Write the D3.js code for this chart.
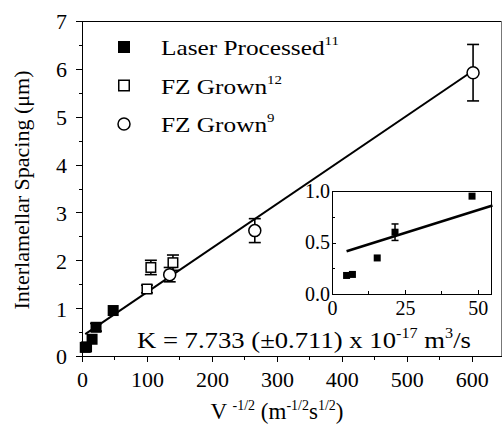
<!DOCTYPE html>
<html>
<head>
<meta charset="utf-8">
<script src="https://cdn.jsdelivr.net/npm/d3@7"></script>
<style>
  body { margin: 0; background: #fff; }
  text { font-family: "Liberation Serif", "Times New Roman", serif; fill: #000; }
  .axis path, .axis line { stroke: #000; stroke-width: 1; shape-rendering: crispEdges; }
</style>
</head>
<body>
<div class="chart"></div>
<script>
// data
var laserX = [5, 7, 15.5, 21.6, 48];
var laserY = [0.18, 0.19, 0.35, 0.60, 0.95];
var laserErr = [0, 0, 0, 0.08, 0];

var fz12X = [100, 106, 140];
var fz12Y = [1.40, 1.85, 1.95];
var fz12Err = [0.08, 0.15, 0.16];

var fz9X = [135, 266, 602];
var fz9Y = [1.70, 2.62, 5.92];
var fz9Err = [0.15, 0.25, 0.59];

// fitted line: intercept, slope, x from, x to
var mainFit = [0.41, 0.00922, 5, 602];
var insetFit = [0.37, 0.0089, 5, 55];

var xTicks = [0, 100, 200, 300, 400, 500, 600];
var yTicks = [0, 1, 2, 3, 4, 5, 6, 7];
var insetXTicks = [0, 25, 50];
var insetYTicks = [0, 0.5, 1.0];

var legendLabels = ["Laser Processed", "FZ Grown", "FZ Grown"];
var legendRefs = ["11", "12", "9"];

var W = 504, H = 427;
var margin = {top: 21, right: 3, bottom: 71, left: 82},
    width = W - margin.left - margin.right,
    height = H - margin.top - margin.bottom;

var svg = d3.select(".chart").append("svg")
    .attr("width", W)
    .attr("height", H);

var g = svg.append("g")
    .attr("transform", "translate(" + margin.left + "," + margin.top + ")");

var x = d3.scaleLinear().domain([0, 645]).range([0, width]);
var y = d3.scaleLinear().domain([0, 7]).range([height, 0]);

// frame (top + right)
g.append("path")
    .attr("d", "M0 0 H" + width)
    .attr("stroke", "#000")
    .attr("shape-rendering", "crispEdges");
g.append("path")
    .attr("d", "M" + width + " 0 V" + height)
    .attr("stroke", "#777")
    .attr("shape-rendering", "crispEdges");

// minor ticks
g.append("g").attr("class", "axis")
    .attr("transform", "translate(0," + height + ")")
    .call(d3.axisBottom(x).tickValues(d3.range(50, 650, 100)).tickSize(4).tickFormat(""))
    .select(".domain").remove();
g.append("g").attr("class", "axis")
    .call(d3.axisLeft(y).tickValues(d3.range(0.5, 7, 1)).tickSize(3).tickFormat(""))
    .select(".domain").remove();

// major axes
var xAxis = g.append("g").attr("class", "axis")
    .attr("transform", "translate(0," + height + ")")
    .call(d3.axisBottom(x).tickValues(xTicks).tickSize(6).tickSizeOuter(0).tickPadding(4).tickFormat(d3.format("d")));
xAxis.selectAll("text").style("font-size", "22px").attr("dy", "0.95em");

var yAxis = g.append("g").attr("class", "axis")
    .call(d3.axisLeft(y).tickValues(yTicks).tickSize(6).tickSizeOuter(0).tickPadding(9).tickFormat(d3.format("d")));
yAxis.selectAll("text").style("font-size", "22px").attr("dy", "0.36em");

// axis titles
var xt = svg.append("text")
    .attr("x", 277)
    .attr("y", 419)
    .attr("text-anchor", "middle")
    .style("font-size", "23px");
xt.append("tspan").text("V ");
xt.append("tspan").attr("dy", -9).style("font-size", "14px").text("-1/2");
xt.append("tspan").attr("dy", 9).text(" (m");
xt.append("tspan").attr("dy", -9).style("font-size", "14px").text("-1/2");
xt.append("tspan").attr("dy", 9).text("s");
xt.append("tspan").attr("dy", -9).style("font-size", "14px").text("1/2");
xt.append("tspan").attr("dy", 9).text(")");

svg.append("text")
    .attr("transform", "translate(29," + 190 + ") rotate(-90)")
    .attr("text-anchor", "middle")
    .style("font-size", "22px")
    .text("Interlamellar Spacing (\u03bcm)");

// fit line
var line = d3.line().x(function (d) { return x(d); }).y(function (d) { return y(mainFit[0] + mainFit[1] * d); });
g.append("path")
    .datum([mainFit[2], mainFit[3]])
    .attr("d", line)
    .attr("fill", "none")
    .attr("stroke", "#000")
    .attr("stroke-width", 2);

function zip(xs, ys, es) {
    return xs.map(function (v, i) { return {x: v, y: ys[i], e: es[i]}; });
}
var laser = zip(laserX, laserY, laserErr);
var fz12 = zip(fz12X, fz12Y, fz12Err);
var fz9 = zip(fz9X, fz9Y, fz9Err);

function errorBars(sel, data, xs, ys, cap, sw) {
    var eb = sel.append("g").selectAll("g")
        .data(data.filter(function (d) { return d.e > 0; }))
        .enter().append("g")
        .attr("stroke", "#000")
        .attr("stroke-width", sw);
    eb.append("line")
        .attr("x1", function (d) { return xs(d.x); }).attr("x2", function (d) { return xs(d.x); })
        .attr("y1", function (d) { return ys(d.y - d.e); }).attr("y2", function (d) { return ys(d.y + d.e); });
    eb.append("line")
        .attr("x1", function (d) { return xs(d.x) - cap; }).attr("x2", function (d) { return xs(d.x) + cap; })
        .attr("y1", function (d) { return ys(d.y + d.e); }).attr("y2", function (d) { return ys(d.y + d.e); });
    eb.append("line")
        .attr("x1", function (d) { return xs(d.x) - cap; }).attr("x2", function (d) { return xs(d.x) + cap; })
        .attr("y1", function (d) { return ys(d.y - d.e); }).attr("y2", function (d) { return ys(d.y - d.e); });
}

errorBars(g, laser, x, y, 6, 1.6);
errorBars(g, fz12, x, y, 6, 1.6);
errorBars(g, fz9, x, y, 6, 1.6);

var sq = 11;
g.append("g").selectAll("rect")
    .data(laser).enter().append("rect")
    .attr("x", function (d) { return x(d.x) - sq / 2; })
    .attr("y", function (d) { return y(d.y) - sq / 2; })
    .attr("width", sq).attr("height", sq)
    .attr("fill", "#000");

g.append("g").selectAll("rect")
    .data(fz12).enter().append("rect")
    .attr("x", function (d) { return x(d.x) - (sq - 1.5) / 2; })
    .attr("y", function (d) { return y(d.y) - (sq - 1.5) / 2; })
    .attr("width", sq - 1.5).attr("height", sq - 1.5)
    .attr("fill", "#fff").attr("stroke", "#000").attr("stroke-width", 1.5);

g.append("g").selectAll("circle")
    .data(fz9).enter().append("circle")
    .attr("cx", function (d) { return x(d.x); })
    .attr("cy", function (d) { return y(d.y); })
    .attr("r", 6)
    .attr("fill", "#fff").attr("stroke", "#000").attr("stroke-width", 1.5);

// legend
var legend = svg.append("g");
var rows = legend.selectAll("g").data(legendLabels).enter().append("g")
    .attr("transform", function (d, i) { return "translate(124," + (47 + i * 38.5) + ")"; });
rows.each(function (d, i) {
    var r = d3.select(this);
    if (i === 0) r.append("rect").attr("x", -6).attr("y", -6).attr("width", 12).attr("height", 12).attr("fill", "#000");
    if (i === 1) r.append("rect").attr("x", -5.25).attr("y", -5.25).attr("width", 10.5).attr("height", 10.5)
        .attr("fill", "#fff").attr("stroke", "#000").attr("stroke-width", 1.5);
    if (i === 2) r.append("circle").attr("r", 6).attr("fill", "#fff").attr("stroke", "#000").attr("stroke-width", 1.5);
    var t = r.append("text")
        .attr("transform", "translate(37,8) scale(1.15,1)")
        .style("font-size", "22px");
    t.append("tspan").text(d);
    t.append("tspan").attr("dy", -10).style("font-size", "13px").text(legendRefs[i]);
});

// K annotation
var kt = svg.append("text")
    .attr("transform", "translate(137,348) scale(1.16,1)")
    .style("font-size", "23px");
kt.append("tspan").text("K = 7.733 (\u00b10.711) x 10");
kt.append("tspan").attr("dy", -10).style("font-size", "14px").text("-17");
kt.append("tspan").attr("dy", 10).text(" m");
kt.append("tspan").attr("dy", -10).style("font-size", "14px").text("3");
kt.append("tspan").attr("dy", 10).text("/s");

// inset
var ins = {left: 332, top: 191, right: 491, bottom: 294};
var gi = svg.append("g").attr("transform", "translate(" + ins.left + "," + ins.top + ")");
var iw = ins.right - ins.left, ih = ins.bottom - ins.top;
var xi = d3.scaleLinear().domain([0, 54.5]).range([0, iw]);
var yi = d3.scaleLinear().domain([0, 1]).range([ih, 0]);

gi.append("rect").attr("width", iw).attr("height", ih)
    .attr("fill", "#fff").attr("stroke", "#000").attr("stroke-width", 1)
    .attr("shape-rendering", "crispEdges");

gi.append("g").attr("class", "axis")
    .attr("transform", "translate(0," + ih + ")")
    .call(d3.axisBottom(xi).tickValues([12.5, 37.5]).tickSize(-3).tickFormat(""))
    .select(".domain").remove();
gi.append("g").attr("class", "axis")
    .call(d3.axisLeft(yi).tickValues([0.25, 0.75]).tickSize(-3).tickFormat(""))
    .select(".domain").remove();

var xiAxis = gi.append("g").attr("class", "axis")
    .attr("transform", "translate(0," + ih + ")")
    .call(d3.axisBottom(xi).tickValues(insetXTicks).tickSize(-4).tickSizeOuter(0).tickPadding(5));
xiAxis.select(".domain").remove();
xiAxis.selectAll("text").style("font-size", "20px").attr("dy", "0.8em");

var yiAxis = gi.append("g").attr("class", "axis")
    .call(d3.axisLeft(yi).tickValues(insetYTicks).tickSize(-4).tickSizeOuter(0).tickPadding(2)
        .tickFormat(d3.format(".1f")));
yiAxis.select(".domain").remove();
yiAxis.selectAll("text").style("font-size", "20px").attr("dy", "0.3em");

var iline = d3.line().x(function (d) { return xi(d); }).y(function (d) { return yi(insetFit[0] + insetFit[1] * d); });
gi.append("path")
    .datum([insetFit[2], insetFit[3]])
    .attr("d", iline)
    .attr("fill", "none")
    .attr("stroke", "#000")
    .attr("stroke-width", 2.5);

errorBars(gi, laser, xi, yi, 3.5, 1.5);

gi.append("g").selectAll("rect")
    .data(laser).enter().append("rect")
    .attr("x", function (d) { return xi(d.x) - 3.5; })
    .attr("y", function (d) { return yi(d.y) - 3.5; })
    .attr("width", 7).attr("height", 7)
    .attr("fill", "#000");
</script>
</body>
</html>
